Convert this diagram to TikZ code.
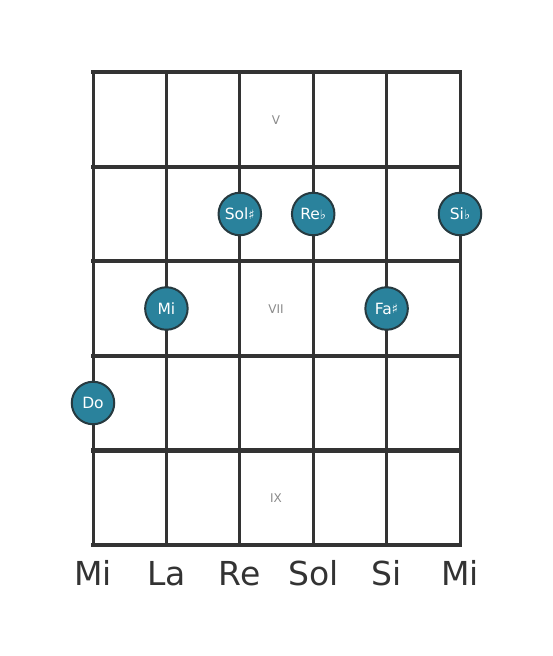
\documentclass[tikz,border=0pt]{standalone}
\usepackage{fontspec}
\setmainfont{DejaVu Sans}
\definecolor{dot}{HTML}{2A829C}
\definecolor{ink}{HTML}{333333}
\definecolor{edgec}{HTML}{263A40}
\definecolor{fretlbl}{HTML}{8A8A8A}
\begin{document}
\begin{tikzpicture}[x=1pt,y=-1pt,
  fretline/.style={ink,line width=4.2pt},
  stringline/.style={ink,line width=3pt},
  note/.style={circle,fill=dot,draw=edgec,line width=2pt,minimum size=42.5pt,inner sep=0pt,text=white,font=\fontsize{15.5}{15.5}\selectfont},
  fretnum/.style={text=fretlbl,font=\fontsize{12}{12}\selectfont},
  strname/.style={text=ink,font=\fontsize{33}{33}\selectfont}]
\useasboundingbox (0,0) rectangle (553,656);
\def\acc#1{\raisebox{0.5pt}{\fontsize{13}{13}\selectfont#1}}
% strings
\foreach \i/\x in {0/93,1/166.4,2/239.8,3/313.2,4/386.6,5/460}{
  \coordinate (st\i) at (\x,72);
  \coordinate (sb\i) at (\x,545);
  \draw[stringline] (st\i) -- (sb\i);
}
% frets
\foreach \j/\y in {0/72,1/166.6,2/261.2,3/355.8,4/450.4,5/545}{
  \coordinate (fl\j) at (91,\y);
  \coordinate (fr\j) at (462,\y);
  \draw[fretline] (fl\j) -- (fr\j);
}
% fret numbers
\node[fretnum] (fV) at (276,120) {V};
\node[fretnum] (fVII) at (276,309) {VII};
\node[fretnum] (fIX) at (276,498) {IX};
% notes
\node[note] (n1) at (239.8,214) {Sol\acc{♯}};
\node[note] (n2) at (313.2,214) {Re\acc{♭}};
\node[note] (n3) at (460,214) {Si\acc{♭}};
\node[note] (n4) at (166.4,308.5) {Mi};
\node[note] (n5) at (386.6,308.5) {Fa\acc{♯}};
\node[note] (n6) at (93,403) {Do};
% string names
\foreach \i/\x/\t in {0/93/Mi,1/166.4/La,2/239.8/Re,3/313.2/Sol,4/386.6/Si,5/460/Mi}{
  \node[strname,anchor=base] (s\i) at (\x,585) {\t};
}
\end{tikzpicture}
\end{document}
